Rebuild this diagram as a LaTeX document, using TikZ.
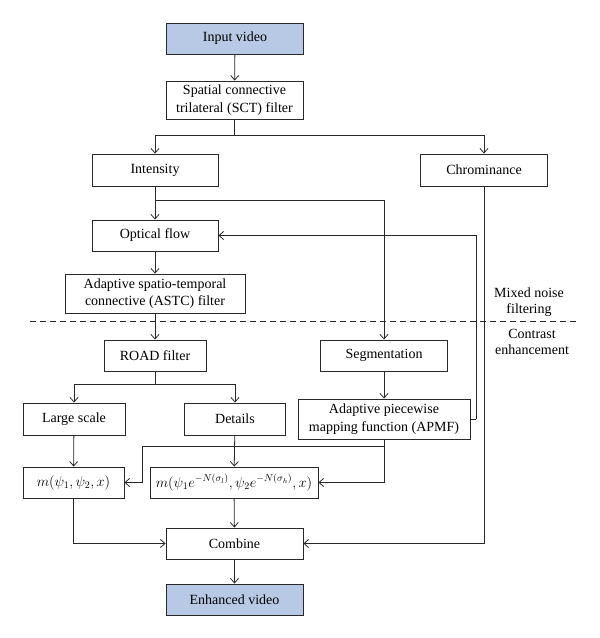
\documentclass[tikz,border=0pt]{standalone}
\usepackage{fontspec}
\setmainfont{Liberation Serif}
\usetikzlibrary{arrows.meta}
\definecolor{ioblue}{RGB}{183,201,229}
\definecolor{edge}{RGB}{40,40,40}
\begin{document}
\begin{tikzpicture}[x=1pt,y=-1pt,
  box/.style={draw=edge, line width=0.9pt, inner sep=2pt, align=center,
    font=\fontsize{14}{17.5}\selectfont},
  io/.style={box, fill=ioblue},
  arr/.style={draw=edge, line width=0.8pt, -{Straight Barb[length=4.5pt,width=8pt]}},
  ln/.style={draw=edge, line width=0.8pt},
  lbl/.style={align=center, font=\fontsize{14}{16}\selectfont}]
\useasboundingbox (0,0) rectangle (600,638);

\node[io, minimum width=137pt, minimum height=31pt] (in) at (235,38.5) {Input video};
\node[box, minimum width=137pt, minimum height=38pt] (sct) at (234.5,100) {Spatial connective\\trilateral (SCT) filter};
\node[box, minimum width=126pt, minimum height=32pt] (int) at (155,170) {Intensity};
\node[box, minimum width=127pt, minimum height=32pt] (chr) at (484,170) {Chrominance};
\node[box, minimum width=126pt, minimum height=31pt] (opt) at (155,235.5) {Optical flow};
\node[box, minimum width=180pt, minimum height=39pt] (astc) at (155,293.5) {Adaptive spatio-temporal\\connective (ASTC) filter};
\node[box, minimum width=102pt, minimum height=31pt] (road) at (155,355.5) {ROAD filter};
\node[box, minimum width=127pt, minimum height=31pt] (seg) at (384,355.5) {Segmentation};
\node[box, minimum width=102pt, minimum height=32pt] (large) at (74,419) {Large scale};
\node[box, minimum width=101pt, minimum height=32pt] (det) at (235,419) {Details};
\node[box, minimum width=172pt, minimum height=40pt] (apmf) at (384,419) {Adaptive piecewise\\mapping function (APMF)};
\node[box, minimum width=101pt, minimum height=31pt] (m1) at (73.5,482.5) {$m(\psi_1,\psi_2,x)$};
\node[box, minimum width=168pt, minimum height=31pt] (m2) at (234,482.5) {$m(\psi_1 e^{-N(\sigma_l)},\psi_2 e^{-N(\sigma_h)},x)$};
\node[box, minimum width=137pt, minimum height=31pt] (comb) at (234.5,543.5) {Combine};
\node[io, minimum width=137pt, minimum height=31pt] (enh) at (234.5,599.5) {Enhanced video};

\node[lbl] (mix) at (529,302) {Mixed noise\\filtering};
\node[lbl] (con) at (532,342) {Contrast\\enhancement};

\coordinate (dl) at (30,321);
\coordinate (dr) at (578,321);
\draw[ln, dash pattern=on 6pt off 4pt] (dl) -- (dr);

\coordinate (sp) at (234.5,135);
\coordinate (b1) at (155,200);
\coordinate (fb) at (476,419);
\coordinate (rs) at (155,384);
\coordinate (ap) at (384,446);
\coordinate (ap2) at (142,446);

\draw[arr] (in) -- (sct);
\draw[ln] (sct) -- (sp);
\draw[arr] (sp) -| (int);
\draw[arr] (sp) -| (chr);
\draw[arr] (int) -- (opt);
\draw[arr] (b1) -| (seg);
\draw[arr] (opt) -- (astc);
\draw[arr] (astc) -- (road);
\draw[ln] (apmf.east) -- (fb);
\draw[arr] (fb) |- (opt.east);
\draw[ln] (road) -- (rs);
\draw[arr] (rs) -| (large);
\draw[arr] (rs) -| (det);
\draw[arr] (seg) -- (apmf);
\draw[arr] (large) -- (m1);
\draw[arr] (det) -- (m2);
\draw[ln] (apmf.south) -- (ap) -- (ap2);
\draw[arr] (ap2) |- (m1.east);
\draw[arr] (apmf.south) |- (m2.east);
\draw[arr] (m2) -- (comb);
\draw[arr] (m1.south) |- (comb.west);
\draw[arr] (chr.south) |- (comb.east);
\draw[arr] (comb) -- (enh);
\end{tikzpicture}
\end{document}
